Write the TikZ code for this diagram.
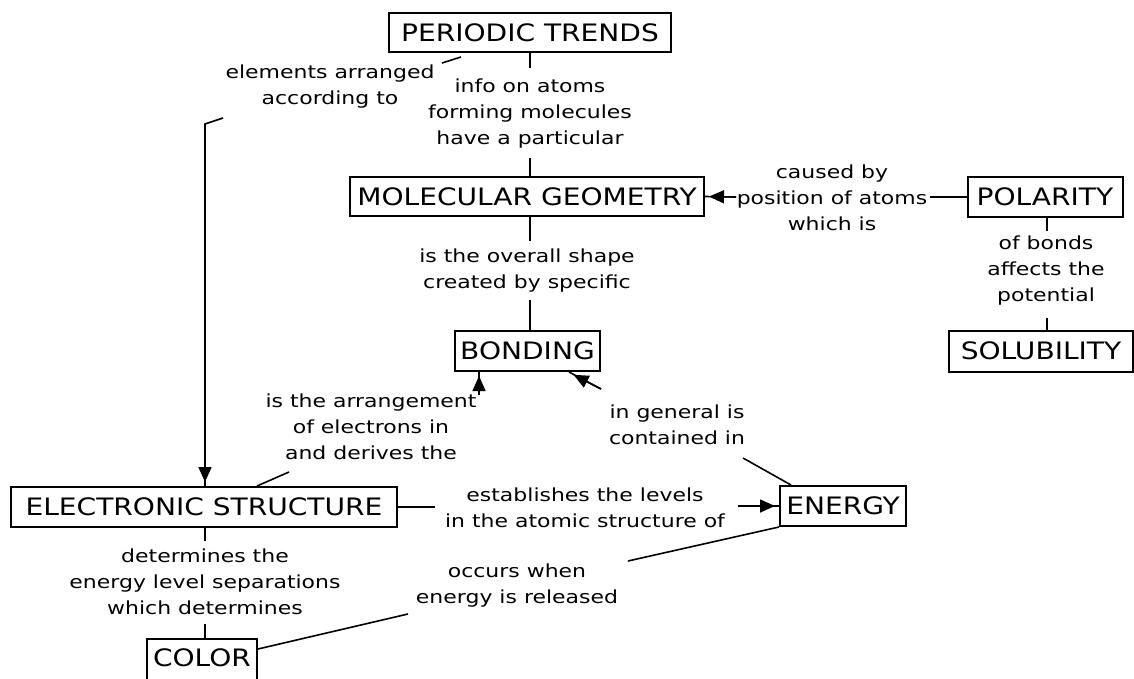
\documentclass[tikz,border=0pt]{standalone}
\usepackage{fontspec}
\usetikzlibrary{arrows.meta,calc}
\newfontfamily\lblfont{DejaVu Sans}[FakeStretch=1.22]
\newfontfamily\boxfont{DejaVu Sans}[FakeStretch=1.17]
\begin{document}
\begin{tikzpicture}[x=1pt,y=-1pt,
  box/.style={draw,line width=2pt,inner sep=0pt,font=\boxfont\fontsize{24}{28}\selectfont},
  lbl/.style={align=center,inner sep=0pt,font=\lblfont\fontsize{18}{26}\selectfont},
  conn/.style={line width=1.6pt},
  arr/.style={line width=1.6pt,-{Triangle[length=15pt,width=13pt]},shorten >=4pt}]
\useasboundingbox (0,0) rectangle (1134,679);
% boxes
\node[box,minimum width=282,minimum height=39] (pt) at (530,32.5) {PERIODIC TRENDS};
\node[box,minimum width=354,minimum height=39] (mg) at (527,196.5) {MOLECULAR GEOMETRY};
\node[box,minimum width=155,minimum height=40] (pol) at (1045,197) {POLARITY};
\node[box,minimum width=184,minimum height=41] (sol) at (1041,351) {SOLUBILITY};
\node[box,minimum width=145,minimum height=40] (bond) at (527.5,351) {BONDING};
\node[box,minimum width=386,minimum height=40] (es) at (204,507) {ELECTRONIC STRUCTURE};
\node[box,minimum width=126,minimum height=40] (en) at (843,506) {ENERGY};
\node[box,minimum width=110,minimum height=46] (col) at (202,662) {COLOR\rule[-9pt]{0pt}{0pt}};
% labels
\node[lbl] (l1) at (330,87) {elements arranged\\according to};
\node[lbl] (l2) at (530,114) {info on atoms\\forming molecules\\have a particular};
\node[lbl] (l3) at (832,198) {caused by\\position of atoms\\which is};
\node[lbl] (l4) at (527,271) {is the overall shape\\created by specific};
\node[lbl] (l5) at (1046,271) {of bonds\\affects the\\potential};
\node[lbl] (l6) at (371,427) {is the arrangement\\of electrons in\\and derives the};
\node[lbl] (l7) at (677,425) {in general is\\contained in};
\node[lbl] (l8) at (585,508) {establishes the levels\\in the atomic structure of};
\node[lbl] (l9) at (205,582) {determines the\\energy level separations\\which determines};
\node[lbl] (l10) at (517,586) {occurs when\\energy is released};
% label-side connector ends
\coordinate (a1) at (530,68);
\coordinate (a2) at (530,158);
\coordinate (b1) at (442,63);
\coordinate (b2) at (461,57);
\coordinate (c1) at (223,118);
\coordinate (c2) at (205,124);
\coordinate (d1) at (289,472);
\coordinate (d2) at (479,395);
\coordinate (e1) at (601,389);
\coordinate (e2) at (743,458);
\coordinate (f1) at (435,507);
\coordinate (f2) at (738,506);
\coordinate (g1) at (205,541);
\coordinate (g2) at (205,624);
\coordinate (h1) at (628,561);
\coordinate (h2) at (408,614);
\coordinate (i1) at (736,197);
\coordinate (i2) at (930,197);
\coordinate (j1) at (1047,231);
\coordinate (j2) at (1047,318);
\coordinate (k1) at (530,241);
\coordinate (k2) at (530,300);
% connectors
\draw[conn] (a1 |- pt.south) -- (a1);
\draw[conn] (a2) -- (a2 |- mg.north);
\draw[conn] (b1) -- (b2);
\draw[conn] (c1) -- (c2) -- (c2 |- es.north);
\draw[arr] (c2) -- (c2 |- es.north);
\draw[conn] ($(es.north west)+(247,0)$) -- (d1);
\draw[conn] (d2) -- (d2 |- bond.south);
\draw[arr] (d2) -- (d2 |- bond.south);
\draw[conn] (e1) -- (569,372);
\draw[arr] (e1) -- ($(bond.south east)+(-31,1)$);
\draw[conn] ($(en.north west)+(12,0)$) -- (e2);
\draw[conn] (es.east) -- (f1);
\draw[conn] (f2) -- (en.west);
\draw[arr] (f2) -- (en.west);
\draw[conn] (es.south -| g1) -- (g1);
\draw[conn] (g2) -- (col.north -| g2);
\draw[conn] (en.south west) -- (h1);
\draw[conn] (h2) -- ($(col.north east)+(0,11)$);
\draw[conn] (i1) -- (mg.east);
\draw[arr] (i1) -- (mg.east);
\draw[conn] (pol.west) -- (i2);
\draw[conn] (pol.south -| j1) -- (j1);
\draw[conn] (j2) -- (sol.north -| j2);
\draw[conn] (mg.south -| k1) -- (k1);
\draw[conn] (k2) -- (bond.north -| k2);
\end{tikzpicture}
\end{document}
